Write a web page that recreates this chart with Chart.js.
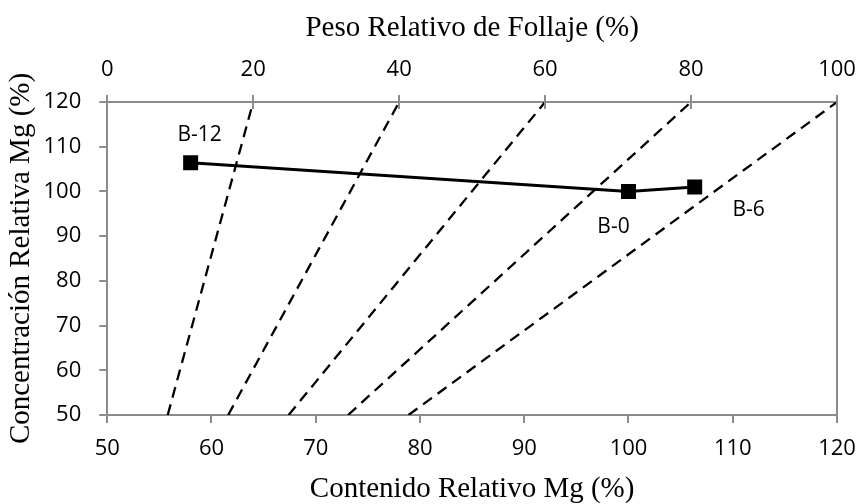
<!DOCTYPE html>
<html>
<head>
<meta charset="utf-8">
<script src="https://cdn.jsdelivr.net/npm/chart.js@4/dist/chart.umd.min.js"></script>
<style>
  html, body { margin: 0; padding: 0; background: #fff; }
  #wrap { width: 859px; height: 504px; }
</style>
</head>
<body>
<div id="wrap"><canvas id="c" width="859" height="504"></canvas></div>
<script>
// Treatments and their relative Mg values (%)
const treatments = ['B-12', 'B-0', 'B-6'];
const relContent = [58.0, 100.0, 106.35];
const relConcentration = [106.4, 100.0, 101.0];

// Reference lines of equal relative foliage weight (%)
const isoWeights = [20, 40, 60, 80, 100];
const isoContentLow = [55.8, 61.6, 67.4, 73.1, 78.9];   // content where each line meets concentration 50
const isoContentHigh = [64, 78, 92, 106, 120];          // content where each line meets concentration 120
const isoConcentration = [50, 120];

// Axis ranges
const contentRange = [50, 120];
const concentrationRange = [50, 120];
const weightRange = [0, 100];
const weightTicks = [0, 20, 40, 60, 80, 100];

const AXIS_GREY = '#8c8c8c';
const tickFont = { family: '"Open Sans", sans-serif', size: 22, lineHeight: 1 };
const titleFont = { family: '"Liberation Serif", "Times New Roman", serif', size: 29, lineHeight: 1 };

// Let the end labels of the horizontal axes hang past the plot edge
const noEdgePadding = s => { s.paddingLeft = 0; s.paddingRight = 0; };

const mainSeries = {
  label: 'Mg',
  data: relContent.map((x, i) => ({ x, y: relConcentration[i] })),
  borderColor: '#000',
  backgroundColor: '#000',
  borderWidth: 3,
  pointStyle: 'rect',
  pointRadius: 10.6,
  pointBorderWidth: 0,
  pointBackgroundColor: '#000',
  tension: 0,
  xAxisID: 'x',
  yAxisID: 'y'
};

const isoSeries = isoWeights.map((w, i) => ({
  label: 'Peso ' + w,
  data: [
    { x: isoContentLow[i], y: isoConcentration[0] },
    { x: isoContentHigh[i], y: isoConcentration[1] }
  ],
  borderColor: '#000',
  borderWidth: 2.3,
  borderDash: [11, 7],
  pointRadius: 0,
  tension: 0,
  xAxisID: 'x',
  yAxisID: 'y'
}));

// Point captions and the inner half of the top-axis tick marks
const decorations = {
  id: 'decorations',
  afterDatasetsDraw(chart) {
    const ctx = chart.ctx;
    const meta = chart.getDatasetMeta(0);
    const offsets = [[9, -28], [-15, 36], [54, 23]];
    ctx.save();
    ctx.font = '21px "Open Sans", sans-serif';
    ctx.fillStyle = '#000';
    ctx.textAlign = 'center';
    ctx.textBaseline = 'middle';
    meta.data.forEach((pt, i) => {
      ctx.fillText(treatments[i], pt.x + offsets[i][0], pt.y + offsets[i][1]);
    });
    const top = chart.scales.x2;
    const area = chart.chartArea;
    ctx.strokeStyle = AXIS_GREY;
    ctx.lineWidth = 2;
    weightTicks.forEach(v => {
      const px = Math.round(top.getPixelForValue(v));
      ctx.beginPath();
      ctx.moveTo(px, area.top);
      ctx.lineTo(px, area.top + 7);
      ctx.stroke();
    });
    ctx.restore();
  }
};

new Chart(document.getElementById('c'), {
  type: 'line',
  data: { datasets: [mainSeries, ...isoSeries] },
  options: {
    responsive: false,
    animation: false,
    devicePixelRatio: 1,
    layout: { padding: { left: 0, right: 22, top: 0, bottom: 0 } },
    plugins: { legend: { display: false }, tooltip: { enabled: false } },
    scales: {
      x: {
        type: 'linear',
        position: 'bottom',
        min: contentRange[0], max: contentRange[1],
        afterFit: noEdgePadding,
        ticks: { stepSize: 10, font: tickFont, color: '#000', padding: 15, maxRotation: 0 },
        grid: { drawOnChartArea: false, tickLength: 8, color: AXIS_GREY, lineWidth: 2 },
        border: { color: AXIS_GREY, width: 2 },
        title: { display: true, text: 'Contenido Relativo Mg (%)', font: titleFont, color: '#000', padding: { top: 0, bottom: 0 } }
      },
      x2: {
        type: 'linear',
        position: 'top',
        min: weightRange[0], max: weightRange[1],
        afterBuildTicks: s => { s.ticks = weightTicks.map(v => ({ value: v })); },
        afterFit: noEdgePadding,
        ticks: { font: tickFont, color: '#000', padding: 14, maxRotation: 0, autoSkip: false },
        grid: { drawOnChartArea: false, tickLength: 7, color: AXIS_GREY, lineWidth: 2 },
        border: { color: AXIS_GREY, width: 2 },
        title: { display: true, text: 'Peso Relativo de Follaje (%)', font: titleFont, color: '#000', padding: { top: 13.5, bottom: 2.5 } }
      },
      y: {
        type: 'linear',
        position: 'left',
        min: concentrationRange[0], max: concentrationRange[1],
        ticks: { stepSize: 10, font: tickFont, color: '#000', padding: 18 },
        grid: { drawOnChartArea: false, tickLength: 8, color: AXIS_GREY, lineWidth: 2 },
        border: { color: AXIS_GREY, width: 2 },
        title: { display: true, text: 'Concentración Relativa Mg (%)', font: titleFont, color: '#000', padding: { top: 6.5, bottom: -10 } }
      },
      y2: {
        type: 'linear',
        position: 'right',
        min: concentrationRange[0], max: concentrationRange[1],
        ticks: { display: false },
        grid: { drawOnChartArea: false, drawTicks: false, color: AXIS_GREY },
        border: { color: AXIS_GREY, width: 2 }
      }
    }
  },
  plugins: [decorations]
});
</script>
</body>
</html>
